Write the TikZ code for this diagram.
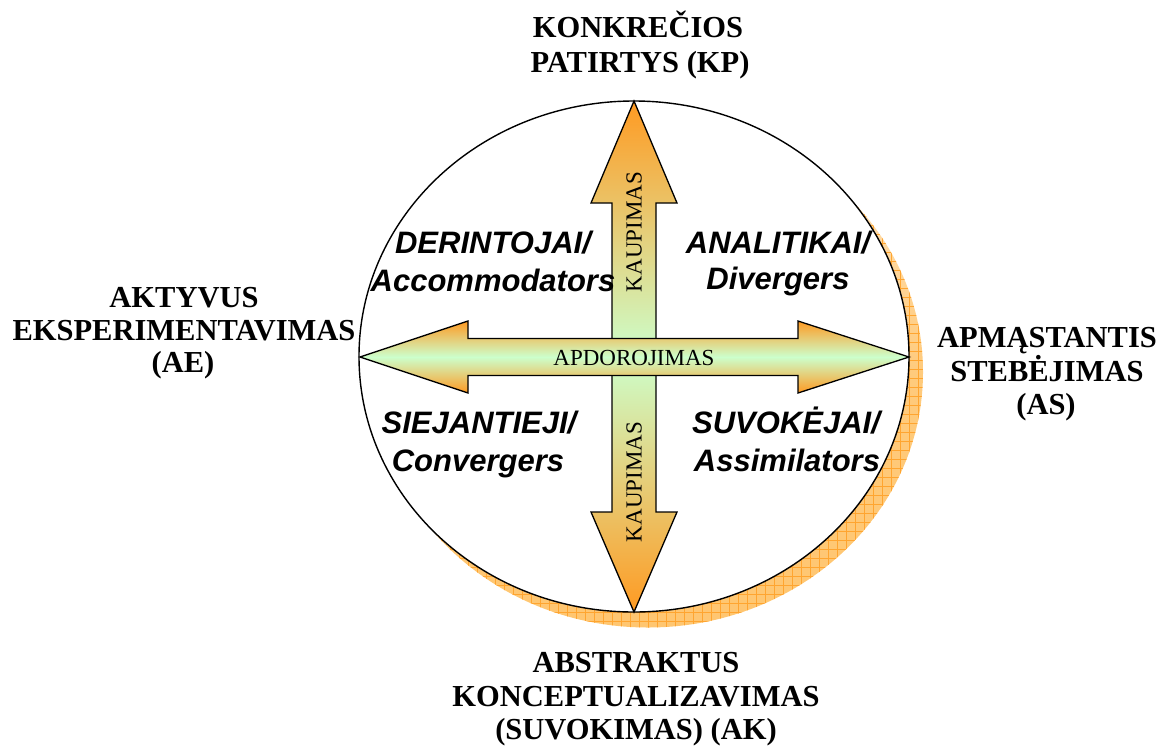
\documentclass[tikz,border=0pt]{standalone}
\usepackage{fontspec}
\setmainfont{Liberation Serif}
\newfontfamily\arialfont{Liberation Sans}
\usetikzlibrary{shapes.geometric}
\definecolor{arrorange}{HTML}{FF9A22}
\definecolor{arrgreen}{HTML}{CCFFCC}
\definecolor{shadowfill}{HTML}{FFC670}
\definecolor{shadowtop}{HTML}{FFE6C4}
\definecolor{shadowgrid}{HTML}{FFA530}
\tikzset{
  outerlbl/.style={font=\fontsize{30.5}{33}\selectfont\bfseries, inner sep=0pt, anchor=base},
  quadlbl/.style={font=\arialfont\fontsize{31}{37}\selectfont\bfseries\itshape, inner sep=0pt, anchor=base},
  arrowlbl/.style={font=\fontsize{23}{26}\selectfont, inner sep=0pt},
  bigarrow/.style={draw=black, line width=1.3pt, line join=miter, top color=arrorange, bottom color=arrorange, middle color=arrgreen},
}
\begin{document}
\begin{tikzpicture}[x=1pt,y=-1pt]
\useasboundingbox (0,0) rectangle (1159,748);

% shadow of the circle
\begin{scope}
  \clip (648,372) ellipse [x radius=275, y radius=255.5];
  \shade[top color=shadowtop, bottom color=shadowfill, middle color=shadowfill!85!shadowtop] (370,110) rectangle (930,632);
  \draw[shadowgrid, line width=0.6pt, step=9pt] (369,108) grid (932,634);
\end{scope}

% the circle
\node[ellipse, draw=black, fill=white, line width=1.4pt, minimum width=550pt, minimum height=511pt, inner sep=0pt, outer sep=0pt] (circ) at (634,356.5) {};

% vertical double arrow (KAUPIMAS)
\path[bigarrow] (634,101) -- (677,203) -- (656,203) -- (656,512) -- (677,512) -- (634,612)
  -- (591,512) -- (612,512) -- (612,203) -- (591,203) -- cycle;

% horizontal double arrow (APDOROJIMAS)
\path[bigarrow] (360,357) -- (468,321) -- (468,338.5) -- (798,338.5) -- (798,321) -- (909,357)
  -- (798,393) -- (798,375.5) -- (468,375.5) -- (468,393) -- cycle;

\node[arrowlbl, rotate=90] (kaupT) at (634,232) {KAUPIMAS};
\node[arrowlbl, rotate=90] (kaupB) at (634,482) {KAUPIMAS};
\node[arrowlbl] (apdo) at (634,358) {APDOROJIMAS};

% outer labels
\node[outerlbl] (kp1) at (638,37) {KONKREČIOS};
\node[outerlbl] (kp2) at (640,72) {PATIRTYS (KP)};

\node[outerlbl] (ae1) at (184,307) {AKTYVUS};
\node[outerlbl] (ae2) at (184,340) {EKSPERIMENTAVIMAS};
\node[outerlbl] (ae3) at (183,372) {(AE)};

\node[outerlbl] (as1) at (1047,347) {APMĄSTANTIS};
\node[outerlbl] (as2) at (1047,381) {STEBĖJIMAS};
\node[outerlbl] (as3) at (1046,414) {(AS)};

\node[outerlbl] (ak1) at (636,672) {ABSTRAKTUS};
\node[outerlbl] (ak2) at (636,706) {KONCEPTUALIZAVIMAS};
\node[outerlbl] (ak3) at (636,739) {(SUVOKIMAS) (AK)};

% quadrant labels
\node[quadlbl] (q1a) at (493,253) {DERINTOJAI/};
\node[quadlbl] (q1b) at (493,291) {Accommodators};
\node[quadlbl] (q2a) at (778,253) {ANALITIKAI/};
\node[quadlbl] (q2b) at (778,289) {Divergers};
\node[quadlbl] (q3a) at (479,433) {SIEJANTIEJI/};
\node[quadlbl] (q3b) at (478,471) {Convergers};
\node[quadlbl] (q4a) at (786,433) {SUVOKĖJAI/};
\node[quadlbl] (q4b) at (787,471) {Assimilators};
\end{tikzpicture}
\end{document}
